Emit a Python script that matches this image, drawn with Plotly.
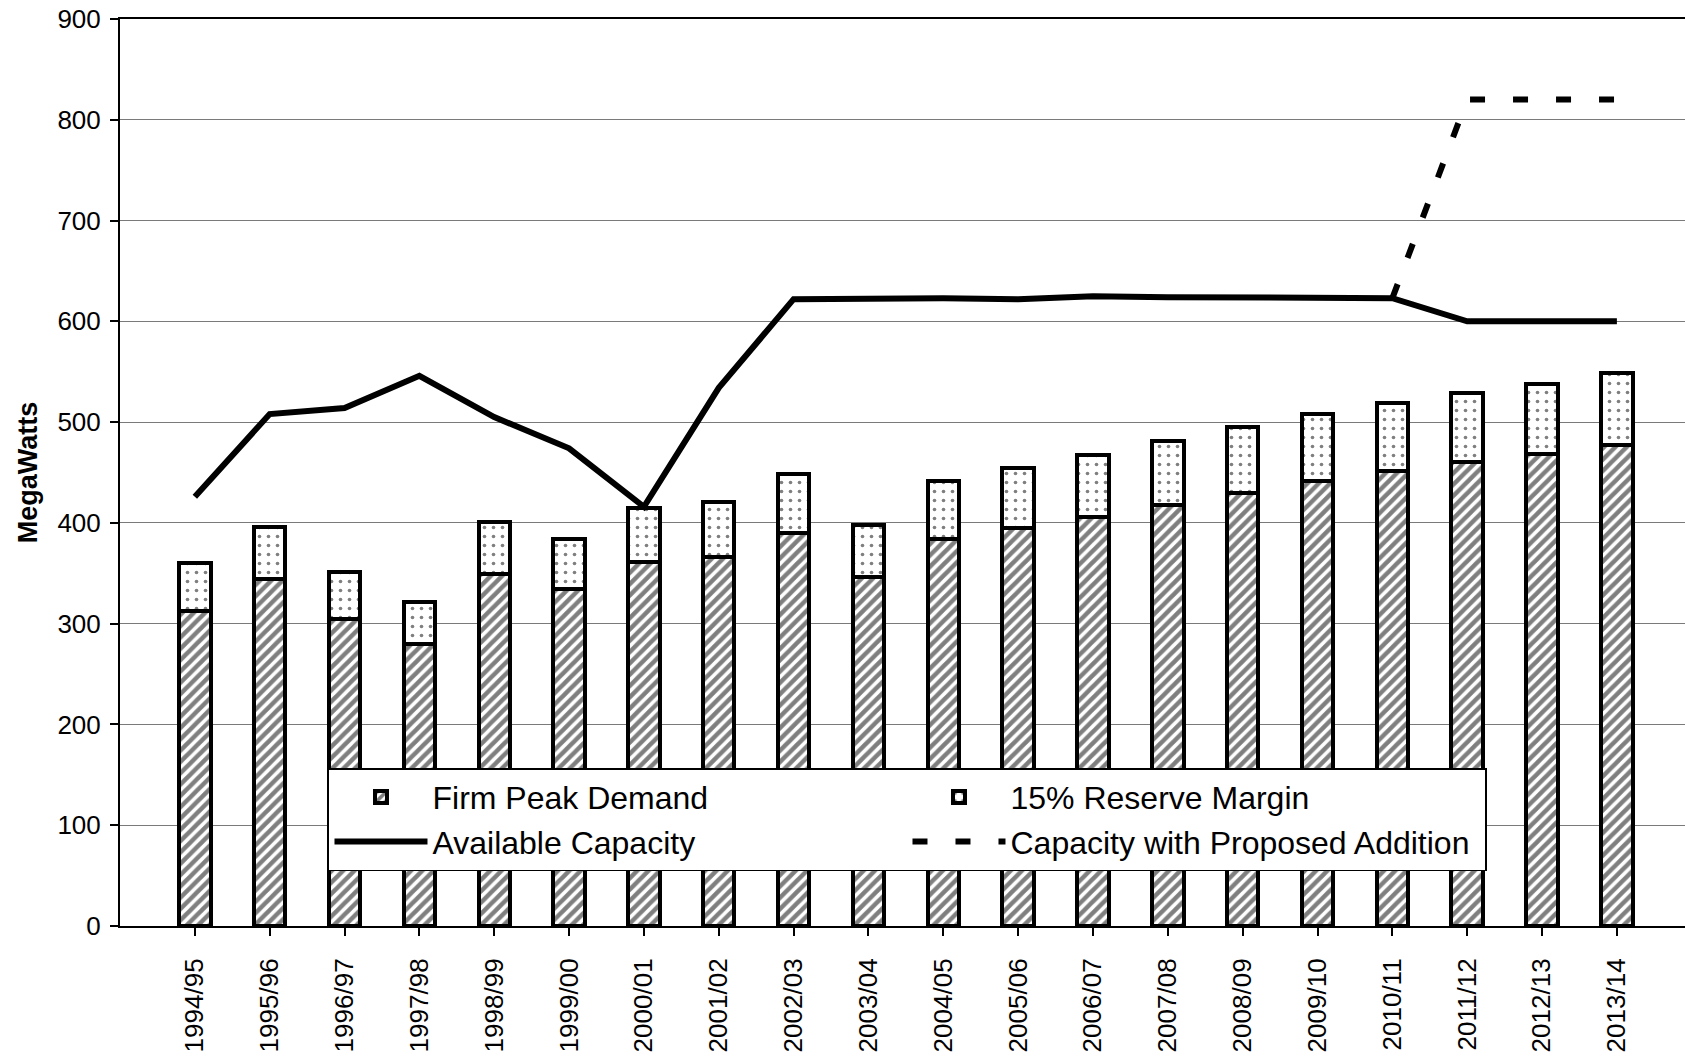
import plotly.graph_objects as go

# Fiscal years on the category axis
years = ["1994/95", "1995/96", "1996/97", "1997/98", "1998/99", "1999/00",
         "2000/01", "2001/02", "2002/03", "2003/04", "2004/05", "2005/06",
         "2006/07", "2007/08", "2008/09", "2009/10", "2010/11", "2011/12",
         "2012/13", "2013/14"]

# Firm peak demand (MW)
firm_peak_demand = [313, 344, 305, 280, 349, 334, 361, 366, 390, 346,
                    384, 395, 406, 418, 430, 442, 451, 460, 468, 477]

# 15% reserve margin stacked on top of demand (MW)
reserve_margin = [47, 52, 46, 42, 52, 50, 54, 55, 59, 52,
                  58, 59, 61, 63, 65, 66, 68, 69, 70, 72]

# Available generating capacity (MW)
available_capacity = [426, 508, 514, 546, 505, 474, 416, 534, 622, 623,
                      623, 622, 625, 624, 624, 623, 623, 600, 600, 600]

# Capacity including the proposed addition (MW); only from 2010/11 on
proposed_capacity = [None, None, None, None, None, None, None, None, None, None,
                     None, None, None, None, None, None, 623, 820, 820, 820]

y_ticks = [0, 100, 200, 300, 400, 500, 600, 700, 800, 900]

FONT = "Liberation Sans, Arial, sans-serif"

fig = go.Figure()

fig.add_trace(go.Bar(
    name="Firm Peak Demand", x=years, y=firm_peak_demand,
    marker=dict(color="white",
                line=dict(color="black", width=4),
                pattern=dict(shape="/", fgcolor="black", bgcolor="white",
                             size=8, solidity=0.56)),
))
fig.add_trace(go.Bar(
    name="15% Reserve Margin", x=years, y=reserve_margin,
    marker=dict(color="white",
                line=dict(color="black", width=4),
                pattern=dict(shape=".", fgcolor="black", bgcolor="white",
                             size=9, solidity=0.13)),
))
fig.add_trace(go.Scatter(
    name="Available Capacity", x=years, y=available_capacity,
    mode="lines", line=dict(color="black", width=6),
))
fig.add_trace(go.Scatter(
    name="Capacity with Proposed Addition", x=years, y=proposed_capacity,
    mode="lines", line=dict(color="black", width=6, dash="15px,28px"),
    connectgaps=False,
))

fig.update_layout(
    width=1685, height=1058,
    margin=dict(l=120, r=0, t=19, b=132, autoexpand=False),
    paper_bgcolor="white", plot_bgcolor="white",
    barmode="stack", bargap=0.58,
    font=dict(family=FONT, color="black", size=26),
    showlegend=True,
    legend=dict(
        orientation="h", traceorder="normal",
        x=0.1329, y=0.1740, xanchor="left", yanchor="top",
        bgcolor="white", bordercolor="black", borderwidth=1.5,
        font=dict(family=FONT, size=32, color="black"),
        entrywidth=470, itemwidth=93,
        tracegroupgap=0,
    ),
)

fig.update_xaxes(
    type="category", range=[-1, 19.91],
    showline=True, linecolor="black", linewidth=2, mirror=True,
    ticks="outside", ticklen=8, tickwidth=2, tickcolor="black",
    tickangle=-90, ticklabelstandoff=12,
    tickfont=dict(family=FONT, size=26, color="black"),
    showgrid=False, zeroline=False,
)
fig.update_yaxes(
    range=[0, 900], tickvals=y_ticks,
    showline=True, linecolor="black", linewidth=2,
    ticks="outside", ticklen=8, tickwidth=2, tickcolor="black",
    ticklabelstandoff=4,
    tickfont=dict(family=FONT, size=26, color="black"),
    showgrid=True, gridcolor="#7a7a7a", gridwidth=1,
    zeroline=False,
    title=dict(text="<b>MegaWatts</b>", standoff=12,
               font=dict(family=FONT, size=27, color="black")),
)

fig.write_html("out.html")
